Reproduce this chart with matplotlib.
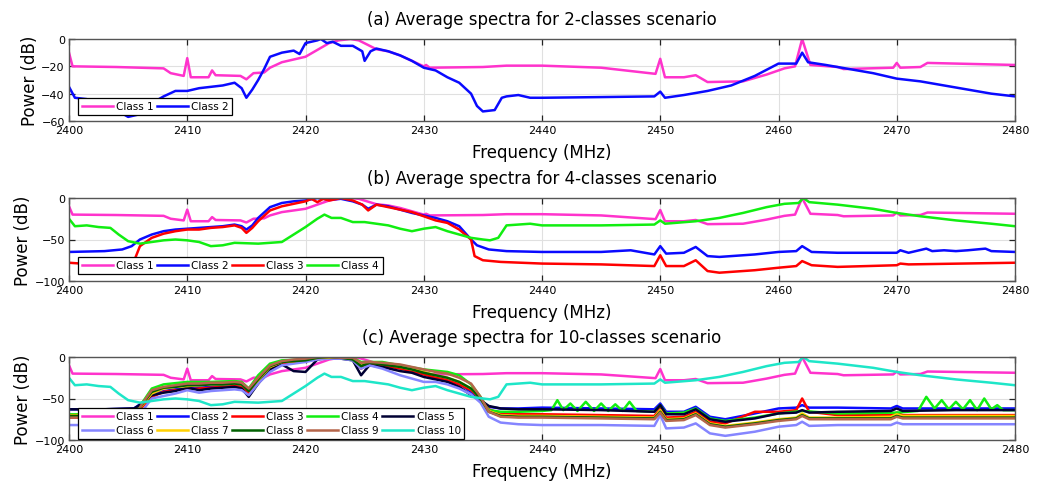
import matplotlib
matplotlib.use("Agg")
import matplotlib.pyplot as plt


# -------------------------------
# Class 1 (same in all three panels)
# -------------------------------
freq_c1 = [2400, 2400.3, 2404, 2408, 2408.6, 2409.7, 2410, 2410.3, 2411.8, 2412.1,
           2412.4, 2414.5, 2415, 2415.6, 2416.5, 2417, 2418, 2420, 2421, 2422,
           2422.8, 2423.8, 2424.5, 2425.2, 2426, 2427, 2428, 2429, 2430, 2430.2,
           2430.5, 2435, 2437, 2440, 2445, 2449.6, 2450, 2450.4, 2452, 2453,
           2454, 2457, 2459, 2460.5, 2461.4, 2462, 2462.7, 2465, 2465.5, 2469.7,
           2470, 2470.3, 2472, 2472.6, 2480]
power_c1 = [-10, -20, -20.5, -21.5, -25, -27, -14, -28, -28, -23,
            -26.5, -27, -29.5, -25, -24.5, -21, -17, -13, -8, -3,
            -1, 0, -1, -4, -7.5, -9, -12, -16, -20, -19,
            -21, -20.5, -19.5, -19.5, -21, -25.5, -14.5, -28, -28, -26.5,
            -31.5, -31, -26, -21.5, -20, 0, -19, -20.5, -22, -21,
            -17.5, -21, -20.5, -17.5, -19]

# -------------------------------
# (a) 2-classes scenario, class 2
# -------------------------------
freq_a2 = [2400, 2400.5, 2401.5, 2403, 2404, 2405, 2406, 2407, 2408, 2409,
           2410, 2411, 2412, 2413, 2414, 2414.6, 2415, 2415.5, 2416, 2416.5,
           2417, 2418, 2419, 2419.5, 2420, 2421, 2421.3, 2421.8, 2422.3, 2423,
           2424, 2424.8, 2425, 2425.5, 2426, 2427, 2428, 2429, 2430, 2431,
           2432, 2433, 2434, 2434.5, 2435, 2436, 2436.6, 2437, 2438, 2439,
           2440, 2445, 2449.5, 2450, 2450.4, 2452, 2454, 2456, 2458, 2460,
           2461.5, 2462, 2462.5, 2464, 2466, 2468, 2470, 2472, 2474, 2476,
           2478, 2480]
power_a2 = [-35, -43, -44, -48, -52, -57, -55, -47, -42, -38,
            -38, -36, -35, -34, -32, -36, -43, -37, -30, -22,
            -13, -10, -8.5, -11, -3, -1, 0, -3, -2, -5,
            -5, -9, -16, -9, -7, -9, -12, -16, -21, -23,
            -28, -32, -40, -49, -53, -52, -43, -42, -41, -43,
            -43, -42.5, -42, -38.5, -43, -41, -38, -34, -27, -18,
            -18, -10, -17, -19, -22, -25, -29, -31, -34, -37,
            -40, -42]

# -------------------------------
# (b) 4-classes scenario
# -------------------------------
freq_b2 = [2400, 2403, 2404.5, 2405.3, 2406, 2407, 2408, 2409, 2410, 2411,
           2412, 2413, 2414, 2414.6, 2415, 2415.5, 2416, 2417, 2418, 2419,
           2420, 2421, 2422, 2423, 2424, 2424.8, 2425.3, 2426, 2427, 2428,
           2429, 2430, 2431, 2432, 2433, 2433.5, 2434, 2434.5, 2435.5, 2437,
           2440, 2445, 2447.5, 2449.5, 2450, 2450.5, 2452, 2453, 2454, 2455,
           2458, 2460, 2461.5, 2462, 2462.8, 2465, 2470, 2470.3, 2471, 2472.5,
           2473, 2474, 2475, 2476, 2477.5, 2478, 2480]
power_b2 = [-65, -64, -62, -58, -50, -44, -40, -38, -37, -36,
            -35, -34, -32, -34, -38, -33, -24, -11, -6, -4,
            -3, 0, -2, -1, -4, -8, -13, -8, -10, -14,
            -18, -21, -24, -28, -34, -42, -50, -57, -62, -64,
            -65, -65, -63, -68, -58, -67, -66, -59, -70, -71,
            -68, -65, -64, -58, -65, -66, -66, -63, -66, -61,
            -64, -63, -64, -63, -61, -64, -65]

freq_b3 = [2400, 2402, 2405, 2405.5, 2406, 2407, 2408, 2409, 2410, 2411,
           2412, 2413, 2414, 2414.6, 2415, 2415.5, 2416, 2417, 2418, 2419,
           2420, 2420.5, 2421, 2421.5, 2422, 2423, 2424, 2424.8, 2425.3, 2426,
           2427, 2428, 2429, 2430, 2431, 2432, 2433, 2434, 2434.3, 2435,
           2436.5, 2440, 2445, 2449.5, 2450, 2450.5, 2452, 2453, 2454, 2455,
           2458, 2460, 2461.5, 2462, 2462.8, 2465, 2470, 2470.3, 2471, 2480]
power_b3 = [-78, -80, -80, -76, -58, -48, -43, -40, -38, -38,
            -36, -35, -33, -36, -42, -36, -28, -15, -10, -7,
            -4, -1, -5, -1, -3, 0, -3, -8, -15, -8,
            -11, -14, -17, -22, -27, -30, -38, -50, -70, -75,
            -77, -79, -80, -82, -69, -82, -82, -75, -88, -90,
            -87, -84, -82, -76, -81, -83, -81, -79, -80, -78]

# class 4 in (b), also class 10 in (c)
freq_b4 = [2400, 2400.5, 2401.5, 2402.5, 2403.5, 2404.2, 2405, 2406, 2407, 2408,
           2409, 2410, 2411, 2412, 2413, 2414, 2416, 2418, 2419, 2420,
           2421, 2421.6, 2422.2, 2423, 2424, 2425, 2426, 2427, 2428, 2429,
           2430, 2431, 2432, 2433, 2434, 2435, 2435.6, 2436.3, 2437, 2438,
           2439, 2440, 2445, 2449.5, 2450, 2450.4, 2453, 2455, 2457, 2459,
           2460.5, 2461.7, 2462.1, 2462.6, 2465, 2468, 2470, 2472, 2475, 2478,
           2480]
power_b4 = [-25, -34, -33, -35, -36, -44, -52, -55, -53, -51,
            -50, -51, -53, -58, -57, -54, -55, -53, -44, -35,
            -25, -20, -24, -24, -29, -29, -31, -33, -37, -40,
            -37, -35, -40, -44, -48, -50, -51, -48, -33, -32,
            -31, -33, -33, -32, -27, -31, -28, -24, -18, -11,
            -7, -6, 0, -5, -8, -13, -18, -22, -27, -31,
            -34]

# -------------------------------
# (c) 10-classes scenario, shared grid for the clustered classes
# -------------------------------
freq_c = [2400, 2403, 2405.5, 2406.2, 2407, 2408, 2409, 2410, 2411, 2412,
          2413, 2414, 2414.6, 2415.2, 2416, 2417, 2418, 2419, 2420, 2421,
          2422, 2423, 2424, 2424.7, 2425.4, 2426.5, 2428, 2429, 2430, 2431,
          2432, 2433, 2434, 2434.8, 2435.5, 2436.5, 2438, 2440, 2445, 2449.5,
          2450, 2450.5, 2452, 2453, 2454.2, 2455.5, 2458, 2460, 2461.5, 2462,
          2462.6, 2465, 2469.5, 2470, 2470.5, 2475, 2480]

power_c2 = [-63, -63, -62, -55, -45, -41, -39, -38, -37, -36,
            -35, -34, -33, -42, -30, -14, -8, -6, -4, -1,
            -2, -1, -3, -12, -8, -9, -13, -16, -20, -23,
            -27, -32, -42, -52, -60, -62, -62, -61, -62, -63,
            -56, -66, -66, -60, -72, -75, -68, -62, -61, -58,
            -61, -61, -62, -59, -62, -62, -62]
power_c3 = [-73, -73, -72, -60, -48, -42, -40, -39, -38, -37,
            -36, -35, -36, -44, -32, -14, -8, -6, -4, -2,
            -1, -1, -3, -14, -8, -10, -14, -17, -21, -25,
            -28, -33, -40, -50, -63, -68, -69, -69, -70, -71,
            -62, -73, -72, -66, -78, -80, -66, -66, -64, -50,
            -66, -70, -70, -67, -70, -70, -70]
power_c5 = [-63, -63, -62, -56, -46, -43, -41, -37, -40, -38,
            -37, -36, -38, -48, -32, -15, -9, -17, -18, -3,
            -1, -2, -4, -22, -10, -12, -17, -19, -24, -27,
            -30, -36, -46, -52, -59, -62, -63, -63, -64, -66,
            -58, -69, -69, -63, -75, -78, -74, -68, -67, -64,
            -67, -66, -65, -62, -65, -64, -64]
power_c6 = [-82, -82, -82, -65, -50, -47, -44, -40, -43, -41,
            -40, -39, -40, -46, -32, -18, -10, -8, -6, -3,
            -2, -2, -4, -14, -10, -14, -22, -26, -30, -30,
            -33, -38, -45, -55, -72, -79, -81, -82, -82, -83,
            -70, -86, -85, -80, -92, -95, -90, -84, -82, -78,
            -83, -82, -82, -79, -81, -81, -81]
power_c7 = [-70, -70, -70, -58, -44, -38, -36, -35, -34, -33,
            -33, -32, -33, -40, -28, -12, -6, -5, -3, -1,
            -1, 0, -2, -10, -6, -8, -12, -15, -18, -22,
            -25, -30, -38, -50, -65, -70, -71, -71, -72, -73,
            -64, -75, -74, -68, -80, -83, -79, -75, -73, -68,
            -73, -73, -72, -69, -71, -71, -71]
power_c8 = [-71, -71, -71, -57, -42, -37, -36, -34, -34, -33,
            -33, -32, -33, -41, -27, -11, -6, -5, -4, -1,
            0, -1, -3, -11, -7, -9, -12, -15, -19, -22,
            -25, -30, -38, -50, -66, -71, -72, -72, -73, -74,
            -66, -76, -75, -69, -81, -84, -80, -76, -74, -70,
            -74, -74, -74, -71, -73, -73, -73]
power_c9 = [-73, -73, -73, -56, -40, -36, -34, -32, -32, -31,
            -31, -30, -31, -38, -25, -10, -5, -3, -2, 0,
            0, -1, -1, -7, -6, -7, -9, -12, -15, -18,
            -20, -25, -32, -48, -66, -72, -73, -73, -74, -75,
            -67, -77, -76, -70, -82, -85, -81, -77, -75, -71,
            -75, -75, -75, -72, -74, -74, -74]

# class 4 in (c) has its own ripples
freq_c4 = [2400, 2403, 2405.5, 2406.2, 2407, 2408, 2410, 2412, 2414, 2414.6,
           2415.2, 2416, 2417, 2418, 2420, 2422, 2424, 2424.7, 2425.4, 2426.5,
           2428, 2430, 2432, 2433, 2434, 2434.8, 2435.5, 2436.5, 2438, 2440,
           2440.8, 2441.3, 2441.8, 2442.4, 2443, 2443.7, 2444.4, 2445, 2445.6, 2446.2,
           2446.8, 2447.4, 2448, 2449.5, 2450, 2450.5, 2452, 2453, 2454.2, 2455.5,
           2458, 2460, 2462, 2465, 2470, 2471.8, 2472.5, 2473.2, 2473.8, 2474.4,
           2475, 2475.6, 2476.2, 2476.8, 2477.4, 2478, 2478.5, 2479, 2480]
power_c4 = [-69, -69, -68, -55, -38, -33, -30, -30, -29, -30,
            -38, -22, -8, -4, -3, 0, -1, -6, -6, -6,
            -10, -15, -18, -22, -33, -48, -64, -66, -66, -65,
            -64, -52, -64, -56, -65, -54, -65, -56, -65, -57,
            -65, -54, -65, -66, -58, -68, -67, -62, -74, -77,
            -73, -68, -65, -68, -67, -65, -48, -62, -52, -63,
            -54, -63, -52, -64, -50, -63, -58, -64, -64]

CLASS_COLORS = {
    1: "#ff33cc",
    2: "#0a0aff",
    3: "#ff0000",
    4: "#11ee11",
    5: "#000033",
    6: "#8585ff",
    7: "#ffd000",
    8: "#006000",
    9: "#b5654a",
    10: "#1ee6c8",
}

AX_LEFT = 69 / 1063
AX_WIDTH = 946 / 1063


def style_axes(ax, title, yticks):

    ax.set_xlim(2400, 2480)
    ax.set_ylim(yticks[0], yticks[-1])
    ax.set_xticks(range(2400, 2481, 10))
    ax.set_yticks(yticks)

    ax.grid(True, color="#e0e0e0", linewidth=0.8)
    ax.set_axisbelow(True)

    ax.tick_params(
        direction="in",
        top=True,
        right=True,
        length=4,
        width=0.9,
        color="#222222",
        labelsize=8,
        pad=3
    )

    for spine in ax.spines.values():
        spine.set_color("#555555")
        spine.set_linewidth(1.0)

    ax.set_title(title, fontsize=12, pad=11)
    ax.set_xlabel("Frequency (MHz)", fontsize=12, labelpad=6)
    ax.set_ylabel("Power (dB)", fontsize=12, labelpad=2)


def add_legend(ax, ncol, y0, handles=None):

    if handles is None:
        handles = ax.get_lines()

    leg = ax.legend(
        handles=handles,
        loc="lower left",
        bbox_to_anchor=(0.0095, y0),
        borderaxespad=0,
        ncol=ncol,
        fontsize=7.5,
        handlelength=3.0,
        handletextpad=0.3,
        columnspacing=0.3,
        borderpad=0.35,
        labelspacing=0.4,
        fancybox=False,
        framealpha=1
    )
    leg.get_frame().set_edgecolor("black")
    leg.get_frame().set_linewidth(0.9)


def plot_spectra():

    fig = plt.figure(figsize=(10.63, 4.85), dpi=100, facecolor="white")

    ax_a = fig.add_axes([AX_LEFT, 1 - 122 / 485, AX_WIDTH, 82 / 485])
    ax_b = fig.add_axes([AX_LEFT, 1 - 282 / 485, AX_WIDTH, 83 / 485])
    ax_c = fig.add_axes([AX_LEFT, 1 - 441 / 485, AX_WIDTH, 83 / 485])

    lw = 1.8

    # (a)
    ax_a.plot(freq_c1, power_c1, color=CLASS_COLORS[1], lw=lw, label="Class 1")
    ax_a.plot(freq_a2, power_a2, color=CLASS_COLORS[2], lw=lw, label="Class 2")
    style_axes(ax_a, "(a) Average spectra for 2-classes scenario", [-60, -40, -20, 0])
    add_legend(ax_a, 2, 0.073)

    # (b)
    ax_b.plot(freq_c1, power_c1, color=CLASS_COLORS[1], lw=lw, label="Class 1")
    ax_b.plot(freq_b2, power_b2, color=CLASS_COLORS[2], lw=lw, label="Class 2")
    ax_b.plot(freq_b3, power_b3, color=CLASS_COLORS[3], lw=lw, label="Class 3")
    ax_b.plot(freq_b4, power_b4, color=CLASS_COLORS[4], lw=lw, label="Class 4")
    style_axes(ax_b, "(b) Average spectra for 4-classes scenario", [-100, -50, 0])
    add_legend(ax_b, 4, 0.084)

    # (c)
    series_c = [
        (1, freq_c1, power_c1),
        (2, freq_c, power_c2),
        (3, freq_c, power_c3),
        (4, freq_c4, power_c4),
        (5, freq_c, power_c5),
        (6, freq_c, power_c6),
        (7, freq_c, power_c7),
        (8, freq_c, power_c8),
        (9, freq_c, power_c9),
        (10, freq_b4, power_b4),
    ]
    lines_c = []
    for cls, f, p in series_c:
        line, = ax_c.plot(f, p, color=CLASS_COLORS[cls], lw=lw, label=f"Class {cls}")
        lines_c.append(line)
    style_axes(ax_c, "(c) Average spectra for 10-classes scenario", [-100, -50, 0])

    # legend fills column-wise, so interleave to get rows 1-5 / 6-10
    row_order = [0, 5, 1, 6, 2, 7, 3, 8, 4, 9]
    add_legend(ax_c, 5, 0.012, handles=[lines_c[i] for i in row_order])

    fig.savefig("out.png", dpi=100, facecolor="white")
    plt.close(fig)


if __name__ == "__main__":

    plot_spectra()
